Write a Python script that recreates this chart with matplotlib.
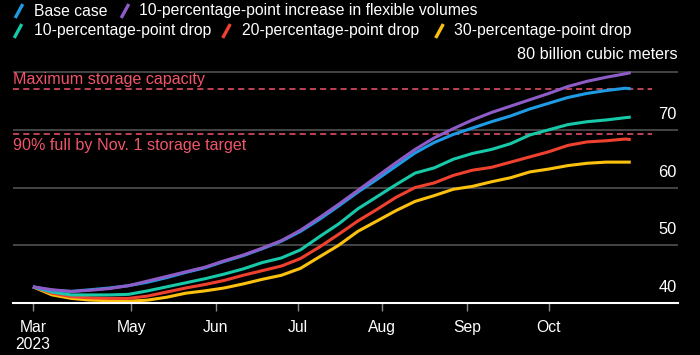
"""Gas storage scenarios chart, 2023 (dark theme)."""
import pandas as pd
import matplotlib
matplotlib.use("Agg")
import matplotlib.pyplot as plt
from matplotlib.lines import Line2D

plt.rcParams["font.family"] = ["Liberation Sans", "DejaVu Sans"]

# data: storage level in billion cubic meters
start = pd.Timestamp("2023-03-26")
day_offsets = [0, 7, 14, 21, 28, 35, 42, 49, 56, 63, 70, 77, 84, 91, 98, 105,
               112, 119, 126, 133, 140, 147, 154, 161, 168, 175, 182, 189, 196,
               203, 210, 217, 219]

base_case = [42.8, 42.2, 42.0, 42.3, 42.6, 43.0, 43.6, 44.4, 45.3, 46.1, 47.2,
             48.2, 49.4, 50.7, 52.4, 54.5, 56.8, 59.2, 61.4, 63.7, 66.0, 67.8,
             69.2, 70.3, 71.4, 72.4, 73.6, 74.6, 75.6, 76.3, 76.8, 77.2, 77.1]
flex_up = [42.8, 42.3, 42.0, 42.2, 42.5, 43.0, 43.8, 44.6, 45.4, 46.2, 47.3,
           48.3, 49.5, 50.8, 52.6, 54.8, 57.1, 59.5, 61.9, 64.3, 66.6, 68.6,
           70.2, 71.7, 73.0, 74.1, 75.2, 76.3, 77.5, 78.4, 79.1, 79.7, 79.9]
drop_10 = [42.8, 41.9, 41.4, 41.4, 41.4, 41.5, 42.1, 42.8, 43.5, 44.2, 45.0,
           45.9, 47.0, 47.8, 49.2, 51.5, 53.7, 56.3, 58.4, 60.5, 62.5, 63.4,
           64.9, 65.9, 66.6, 67.6, 69.1, 70.0, 70.9, 71.4, 71.7, 72.1, 72.2]
drop_20 = [42.8, 41.7, 41.1, 40.9, 40.8, 40.8, 41.2, 41.9, 42.6, 43.2, 43.9,
           44.8, 45.6, 46.4, 47.7, 49.7, 51.9, 54.2, 56.2, 58.3, 60.0, 60.8,
           62.1, 63.0, 63.5, 64.4, 65.3, 66.2, 67.3, 67.9, 68.1, 68.4, 68.3]
drop_30 = [42.8, 41.4, 40.8, 40.5, 40.4, 40.3, 40.5, 41.0, 41.7, 42.1, 42.6,
           43.3, 44.1, 44.8, 46.0, 48.0, 50.0, 52.4, 54.2, 56.0, 57.6, 58.6,
           59.7, 60.2, 61.0, 61.7, 62.7, 63.2, 63.8, 64.2, 64.4, 64.4, 64.4]

max_capacity = 77.0
target_90 = 69.3

tick_dates = ["2023-03-26", "2023-05-01", "2023-06-01", "2023-07-01",
              "2023-08-01", "2023-09-01", "2023-10-01"]
tick_labels = ["Mar\n2023", "May", "Jun", "Jul", "Aug", "Sep", "Oct"]
grid_values = [50, 60, 70, 80]
ylabel_values = [40, 50, 60, 70]

series = [
    ("30-percentage-point drop", drop_30, "#fcc10f"),
    ("20-percentage-point drop", drop_20, "#f0412f"),
    ("10-percentage-point drop", drop_10, "#17c9a9"),
    ("Base case", base_case, "#1e9be3"),
    ("10-percentage-point increase in flexible volumes", flex_up, "#8d5cc6"),
]

PINK = "#f0566a"
W, H = 700, 355

fig = plt.figure(figsize=(7, 3.55), dpi=100, facecolor="black")
ax = fig.add_axes([13 / W, 52 / H, 665 / W, (303 - 60.5) / H])
ax.set_facecolor("black")

dates = [start + pd.Timedelta(days=d) for d in day_offsets]

for v in grid_values:
    ax.axhline(v, color="#505050", lw=1.2, zorder=1)

for label, vals, color in series:
    ax.plot(dates, vals, color=color, lw=2.2, solid_capstyle="butt", zorder=3)

# reference lines
dash_end = (652 - 13) / 665
for v in (max_capacity, target_90):
    ax.axhline(v, xmin=0, xmax=dash_end, color=PINK, lw=1.1,
               ls=(0, (4, 2.7)), zorder=2)
ax.annotate("Maximum storage capacity", xy=(0, max_capacity),
            xycoords=("axes fraction", "data"), xytext=(0, 7.2),
            textcoords="offset points", ha="left", va="center",
            color=PINK, fontsize=11.6)
ax.annotate("90% full by Nov. 1 storage target", xy=(0, target_90),
            xycoords=("axes fraction", "data"), xytext=(0, -8.6),
            textcoords="offset points", ha="left", va="center",
            color=PINK, fontsize=11.6)

ax.set_ylim(40, 82)
ax.set_xlim(start - pd.Timedelta(days=7.3), start + pd.Timedelta(days=236.3))

for s in ("top", "left", "right"):
    ax.spines[s].set_visible(False)
ax.spines["bottom"].set_color("white")
ax.spines["bottom"].set_linewidth(1.5)
ax.spines["bottom"].set_zorder(4)

ax.set_yticks([])
ax.set_xticks([pd.Timestamp(d) for d in tick_dates])
ax.set_xticklabels(tick_labels)
ax.tick_params(axis="x", length=6, width=1, color="#8a8a8a", labelcolor="white",
               labelsize=11.3, pad=6)

# y labels sit above the gridlines on the right
for v in ylabel_values:
    ax.annotate(str(v), xy=(1, v), xycoords=("axes fraction", "data"),
                xytext=(-1, 11), textcoords="offset points",
                ha="right", va="center", color="white", fontsize=11.8)
ax.annotate("80 billion cubic meters", xy=(1, 80),
            xycoords=("axes fraction", "data"), xytext=(0, 12.5),
            textcoords="offset points", ha="right", va="center",
            color="white", fontsize=11.6, annotation_clip=False)

# legend with slanted swatches
legend_items = [
    ("Base case", "#1e9be3", 19, 11, 33.5),
    ("10-percentage-point increase in flexible volumes", "#8d5cc6", 125, 11, 139),
    ("10-percentage-point drop", "#17c9a9", 18, 31, 34),
    ("20-percentage-point drop", "#f0412f", 226.5, 31, 242),
    ("30-percentage-point drop", "#fcc10f", 439.5, 31, 454),
]
for label, color, cx, cy, tx in legend_items:
    fig.add_artist(Line2D([(cx - 3) / W, (cx + 3) / W],
                          [1 - (cy + 5.5) / H, 1 - (cy - 5.5) / H],
                          transform=fig.transFigure, color=color, lw=2.4))
    fig.text(tx / W, 1 - cy / H, label, color="white", fontsize=11.3,
             ha="left", va="center")

fig.savefig("out.png", dpi=100, facecolor="black")
